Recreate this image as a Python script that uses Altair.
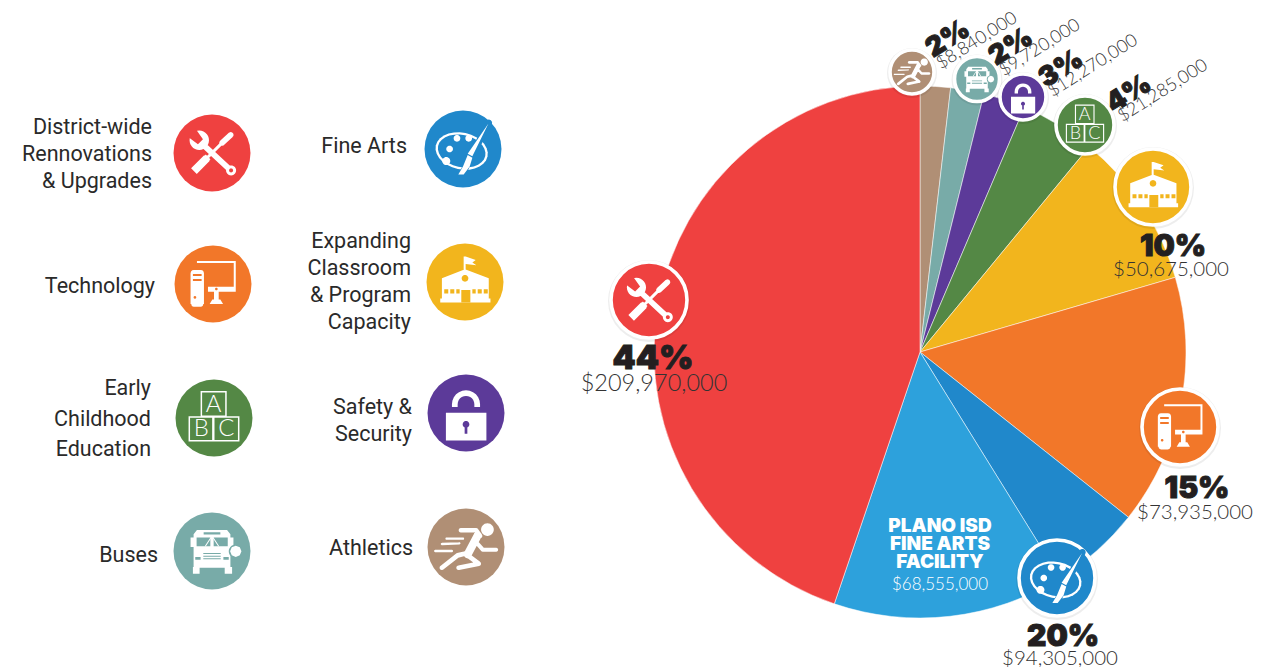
import math
import altair as alt
import pandas as pd

# ---------- chart values ----------
categories = ["Athletics", "Buses", "Safety & Security", "Early Childhood Education",
              "Expanding Classroom & Program Capacity", "Technology", "Fine Arts",
              "Plano ISD Fine Arts Facility", "District-wide Rennovations & Upgrades"]
slice_shares = [1.84, 2.03, 2.55, 4.55, 9.50, 15.20, 5.50, 14.05, 44.78]
slice_colors = ["#B08F75", "#78ABA8", "#5C3A99", "#548845", "#F2B51D",
                "#F27729", "#2088CB", "#2DA1DC", "#EF4140"]

percents = ["2%", "2%", "3%", "4%", "10%", "15%", "20%", "44%"]
amounts = ["$8,840,000", "$9,720,000", "$12,270,000", "$21,285,000", "$50,675,000",
           "$73,935,000", "$94,305,000", "$209,970,000"]
facility_lines = ["PLANO ISD", "FINE ARTS", "FACILITY"]
facility_amount = "$68,555,000"

legend_lines = [["District-wide", "Rennovations", "& Upgrades"], ["Technology"],
                ["Early", "Childhood", "Education"], ["Buses"], ["Fine Arts"],
                ["Expanding", "Classroom", "& Program", "Capacity"],
                ["Safety &", "Security"], ["Athletics"]]

# ---------- layout (page pixels) ----------
PIE_X, PIE_Y, PIE_R = 920, 352, 266
W, H = 1264, 659
x_scale = alt.Scale(domain=[8, 8 + W], range=[0, W])
y_scale = alt.Scale(domain=[8, 8 + H], range=[0, H])
X = alt.X("x:Q", scale=x_scale, axis=None)
Y = alt.Y("y:Q", scale=y_scale, axis=None)

# ---------- icon geometry (units: 115 = icon circle radius) ----------
def poly(pts):
    a = sum(pts[i][0] * pts[(i + 1) % len(pts)][1] - pts[(i + 1) % len(pts)][0] * pts[i][1]
            for i in range(len(pts)))
    if a < 0:
        pts = pts[::-1]
    return "M" + "L".join(f"{p[0] / 115:.3f},{p[1] / 115:.3f}" for p in pts) + "Z"

def rect(x0, y0, x1, y1):
    return poly([(x0, y0), (x1, y0), (x1, y1), (x0, y1)])

def ell(cx, cy, rx, ry=None, rot=0, n=28):
    ry = rx if ry is None else ry
    c, s = math.cos(math.radians(rot)), math.sin(math.radians(rot))
    pts = []
    for i in range(n):
        t = 2 * math.pi * i / n
        ex, ey = rx * math.cos(t), ry * math.sin(t)
        pts.append((cx + ex * c - ey * s, cy + ex * s + ey * c))
    return poly(pts)

def seg(p, q, w, round_ends=True):
    dx, dy = q[0] - p[0], q[1] - p[1]
    L = math.hypot(dx, dy)
    nx, ny = -dy / L * w / 2, dx / L * w / 2
    out = poly([(p[0] + nx, p[1] + ny), (q[0] + nx, q[1] + ny),
                (q[0] - nx, q[1] - ny), (p[0] - nx, p[1] - ny)])
    if round_ends:
        out += ell(p[0], p[1], w / 2, n=12) + ell(q[0], q[1], w / 2, n=12)
    return out

def line(pts, w):
    return "".join(seg(pts[i], pts[i + 1], w) for i in range(len(pts) - 1))

tools = [
    ("w", seg((30, -30), (56, -54), 17) + seg((-15, 15), (30, -30), 9, False)
          + seg((-54, 54), (-15, 15), 24, False) + seg((-22, 8), (-8, 22), 10, False)),
    ("w", seg((-30, -28), (56, 52), 17, False) + ell(-38, -38, 29) + ell(57, 52, 15)),
    ("c", poly([(-27, -41), (-42, -26), (-82, -56), (-56, -82)]) + ell(57, 52, 6)),
]
computer = [
    ("w", rect(-48, -69, 68, -63) + rect(62, -69, 68, 23) + rect(-15, 8, 68, 23)
          + rect(3, 23, 17, 46) + poly([(-2, 46), (22, 46), (30, 60), (-10, 60)])),
    ("c", ell(10, 15, 4)),
    ("w", seg((-57, -32), (-37, -32), 20) + rect(-67, -32, -27, 60) + seg((-57, 60), (-37, 60), 16)),
    ("c", rect(-60, -30, -34, -24) + rect(-60, -15, -34, -9) + ell(-54, 40, 4)),
]
def box(x0, y0, x1, y1, t=4.5):
    return rect(x0, y0, x1, y0 + t) + rect(x0, y1 - t, x1, y1) + rect(x0, y0, x0 + t, y1) + rect(x1 - t, y0, x1, y1)
blocks = [("w", box(-40, -81, 38, -3) + box(-76, -5, -1, 70) + box(-3, -5, 76, 70))]
bus = [
    ("w", poly([(-45, -63), (45, -63), (55, -50), (55, 50), (-55, 50), (-55, -50)])
          + rect(-64, -40, -55, -12) + rect(55, -40, 64, -12)
          + rect(-57, 48, -37, 68) + rect(38, 48, 60, 68)),
    ("c", poly([(-46, -40), (-5, -40), (-5, -14), (-46, -14)]) + poly([(5, -40), (47, -40), (47, -14), (5, -14)])
          + rect(-25, -56, 25, -49) + rect(-26, 6, 26, 9) + rect(-26, 14, 26, 17) + rect(-26, 22, 26, 25)
          + rect(-50, 18, -34, 26) + rect(34, 18, 50, 26) + ell(70, 1, 20)),
    ("w", seg((-3, -40), (-20, -14), 3, False) + seg((3, -40), (20, -14), 3, False)
          + ell(71, 1, 17, n=8)),
]
palette = [
    ("w", ell(-4, 6, 79, 55, 12)),
    ("c", ell(-4, 6, 72, 48, 12) + seg((77, -78), (0, 70), 20)),
    ("w", ell(-18, -32, 10) + ell(17, -32, 10) + ell(-40, 0, 10) + ell(-50, 36, 12)
          + poly([(76, -76), (28, 22), (14, 14)])
          + poly([(14, 18), (28, 26), (20, 52), (2, 76), (-14, 76), (0, 52)])),
]
def _arch():
    out, o, i = [], 42, 25
    for k in range(12):
        a0, a1 = math.pi + math.pi * k / 12, math.pi + math.pi * (k + 1) / 12
        out.append(poly([(o * math.cos(a0), -26 + o * math.sin(a0)), (o * math.cos(a1), -26 + o * math.sin(a1)),
                         (i * math.cos(a1), -26 + i * math.sin(a1)), (i * math.cos(a0), -26 + i * math.sin(a0))]))
    return "".join(out)
school = [
    ("w", poly([(-74, 61), (-74, 49), (-69, 49), (-69, -11), (0, -38), (71, -11), (71, 49), (76, 49), (76, 61)])
          + rect(-4, -76, 2, -36) + poly([(2, -76), (32, -66), (22, -58), (34, -50), (2, -54)])),
    ("c", rect(-11, 24, 16, 61) + ell(0, -11, 10)
          + rect(-62, 22, -50, 34) + rect(-44, 22, -32, 34) + rect(-26, 22, -16, 34)
          + rect(22, 22, 32, 34) + rect(38, 22, 50, 34) + rect(56, 22, 68, 34)),
]
lock = [
    ("w", rect(-60, -1, 61, 82) + _arch() + rect(-42, -27, -25, -18) + rect(25, -27, 42, -18)),
    ("c", ell(0, 34, 10) + rect(-4, 36, 4, 62)),
]
runner = [
    ("w", ell(64, -52, 19)
          + line([(-15, -50), (30, -50), (42, -33)], 14)
          + seg((35, -35), (5, 22), 24)
          + line([(30, -15), (50, 8), (90, 8)], 12)
          + line([(5, 25), (38, 50), (-22, 62)], 14)
          + line([(-5, 20), (-25, 25), (-72, 62)], 14)
          + seg((-58, -25), (-9, -25), 7) + seg((-72, -9), (-20, -11), 7) + seg((-92, 12), (-42, 12), 7)),
]

# ---------- icon discs: (x, y, radius, colour, icon, ring) ----------
discs = [
    (212, 153, 38.5, "#EF4140", tools, False), (213, 284, 38.5, "#F27729", computer, False),
    (214, 418, 38.5, "#548845", blocks, False), (212, 551, 38.5, "#78ABA8", bus, False),
    (463, 149, 38.5, "#2088CB", palette, False), (465, 282, 38.5, "#F2B51D", school, False),
    (466, 413, 38.5, "#5C3A99", lock, False), (466, 547, 38.5, "#B08F75", runner, False),
    (649, 300, 38, "#EF4140", tools, True), (1180, 427, 38, "#F27729", computer, True),
    (1057, 578, 38, "#2088CB", palette, True), (1153, 187, 38, "#F2B51D", school, True),
    (1085, 125, 29, "#548845", blocks, True), (1023, 97, 23, "#5C3A99", lock, True),
    (977, 79, 22.5, "#78ABA8", bus, True), (912, 72, 22, "#B08F75", runner, True),
]

disc_rows, part_rows, letter_rows = [], [], []
for x, y, r, col, icon, ring in discs:
    disc_rows.append(dict(x=x, y=y, size=(2 * r) ** 2, fill=col,
                          stroke="white" if ring else col, sw=3.6 if ring else 0))
    for kind, path in icon:
        part_rows.append(dict(x=x, y=y, size=(2 * r) ** 2, shape=path,
                              fill="white" if kind == "w" else col))
    if icon is blocks:
        for ch, lx, ly in [("A", -1, -40), ("B", -38, 34), ("C", 37, 34)]:
            letter_rows.append(dict(x=x + lx / 115 * r, y=y + ly / 115 * r, t=ch, fs=r * 0.62))

shadow_rows = [dict(x=d["x"], y=d["y"] + 1, size=(math.sqrt(d["size"]) + 6) ** 2) for d in disc_rows if d["sw"] > 0]

# ---------- text positions ----------
legend_pos = [
    (152, [128, 155, 182]), (155, [287]), (151, [389, 420, 450]), (158, [556]),
    (407, [147]), (411, [242, 269, 296, 323]), (412, [408, 435]), (413, [549]),
]
legend_rows = []
for lines, (rx, ys) in zip(legend_lines, legend_pos):
    for t, yy in zip(lines, ys):
        legend_rows.append(dict(x=rx, y=yy, t=t))

pct_pos = [(948, 39), (1011, 47), (1061, 69), (1129, 94), (1173, 247), (1197, 489), (1063, 637), (653, 359)]
amt_pos = [(977, 41), (1040, 48), (1093, 66), (1163, 91), (1171, 270), (1195, 513), (1060, 659), (654, 384)]
pct_sizes = [27, 27, 27, 27, 30, 30, 30, 33]
amt_sizes = [18, 18, 18, 18, 20.5, 20.5, 20.5, 23.5]
pct_rows = [dict(x=p[0], y=p[1], t=t, fs=s) for t, p, s in zip(percents, pct_pos, pct_sizes)]
amt_rows = [dict(x=p[0], y=p[1], t=t, fs=s) for t, p, s in zip(amounts, amt_pos, amt_sizes)]

# ---------- layers ----------
pie_df = pd.DataFrame(dict(cat=categories, share=slice_shares, col=slice_colors, i=range(len(categories))))
pie = alt.Chart(pie_df).mark_arc(outerRadius=PIE_R, innerRadius=0, stroke="white", strokeWidth=0.5).encode(
    theta=alt.Theta("share:Q", stack=True, scale=alt.Scale(domain=[0, 100])),
    order=alt.Order("i:Q"),
    color=alt.Color("col:N", scale=None, legend=None),
    x=alt.value(PIE_X - 8), y=alt.value(PIE_Y - 8),
)
shadow = alt.Chart(pd.DataFrame(shadow_rows)).mark_circle(color="#000000", opacity=0.07).encode(
    x=X, y=Y, size=alt.Size("size:Q", scale=None, legend=None))
disc = alt.Chart(pd.DataFrame(disc_rows)).mark_circle(opacity=1).encode(
    x=X, y=Y, size=alt.Size("size:Q", scale=None, legend=None),
    color=alt.Color("fill:N", scale=None, legend=None),
    stroke=alt.Stroke("stroke:N", scale=None, legend=None),
    strokeWidth=alt.StrokeWidth("sw:Q", scale=None, legend=None))
parts = alt.Chart(pd.DataFrame(part_rows)).mark_point(filled=True, opacity=1, strokeWidth=0).encode(
    x=X, y=Y, size=alt.Size("size:Q", scale=None, legend=None),
    shape=alt.Shape("shape:N", scale=None, legend=None),
    color=alt.Color("fill:N", scale=None, legend=None))
letters = alt.Chart(pd.DataFrame(letter_rows)).mark_text(
    font="Lato", fontWeight=300, color="white", baseline="middle", align="center").encode(
    x=X, y=Y, text="t:N", size=alt.Size("fs:Q", scale=None, legend=None))

def text_layer(rows, sized=False, **kw):
    enc = dict(x=X, y=Y, text="t:N")
    if sized:
        enc["size"] = alt.Size("fs:Q", scale=None, legend=None)
    return alt.Chart(pd.DataFrame(rows)).mark_text(baseline="middle", **kw).encode(**enc)

INK = "#231F20"
legend_text = text_layer(legend_rows, font="Roboto", fontSize=21.5, align="right", color="#2a2a2a")
pct_flat = text_layer(pct_rows[4:], sized=True, font="Inter", fontWeight=900, align="center", color=INK,
                      stroke=INK, strokeWidth=1)
amt_flat = text_layer(amt_rows[4:], sized=True, font="Lato", fontWeight=300, align="center", color="#333333")
pct_rot = text_layer(pct_rows[:4], sized=True, font="Inter", fontWeight=900, align="center", color=INK,
                     angle=328, stroke=INK, strokeWidth=1)
amt_rot = text_layer(amt_rows[:4], sized=True, font="Lato", fontWeight=300, align="center", color="#333333",
                     angle=328)
fac_rows = [dict(x=940, y=y, t=t) for t, y in zip(facility_lines, [526, 544, 562])]
fac = text_layer(fac_rows, font="Inter", fontWeight=900, fontSize=19, align="center", color="white")
fac_amt = text_layer([dict(x=940, y=585, t=facility_amount)], font="Lato", fontWeight=300, fontSize=17,
                     align="center", color="white")

chart = alt.layer(pie, shadow, disc, parts, letters, legend_text, pct_flat, amt_flat, pct_rot, amt_rot, fac, fac_amt).properties(
    width=W, height=H, padding=0, autosize=alt.AutoSizeParams(type="none"), background="white"
).configure_view(strokeWidth=0)

chart.save("out.html", embed_options={"renderer": "svg", "actions": False})
